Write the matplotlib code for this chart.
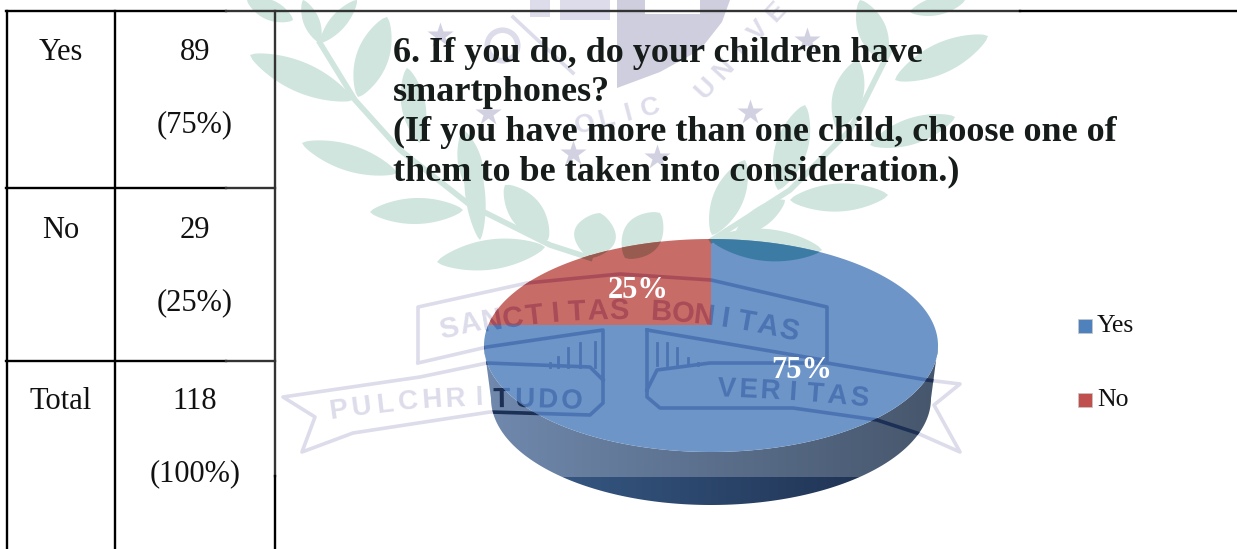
import numpy as np
import matplotlib
matplotlib.use('Agg')
import matplotlib.pyplot as plt
from matplotlib.font_manager import FontProperties
from matplotlib.patches import Polygon, Rectangle, PathPatch
from matplotlib.textpath import TextPath
from matplotlib.transforms import Affine2D

plt.rcParams['font.family'] = ['Liberation Serif', 'DejaVu Serif']

row_labels = ['Yes', 'No', 'Total']
row_counts = ['89', '29', '118']
row_shares = ['(75%)', '(25%)', '(100%)']
pie_labels = ['Yes', 'No']
pie_values = [75, 25]
title_lines = ['6. If you do, do your children have',
               'smartphones?',
               '(If you have more than one child, choose one of',
               'them to be taken into consideration.)']

CX, CY, RX, RY = 711, 345.5, 227, 106.5
APEX = (711, 325)
DEPTH = 53

LEAF = '#cfe5dd'
SEAL = '#dddcea'
SEAL_FONT = FontProperties(family='Liberation Sans', weight='bold')

# laurel leaves as (x0, y0, x1, y1, width)
leaves = [(247, 0, 293, 20, 20), (303, 0, 320, 43, 16), (357, 0, 320, 43, 16),
          (250, 55, 353, 100, 30), (387, 17, 358, 97, 32), (302, 143, 397, 173, 26),
          (407, 68, 420, 143, 24), (463, 130, 478, 200, 24), (370, 212, 463, 210, 26),
          (437, 262, 545, 247, 30), (505, 185, 548, 240, 32), (470, 145, 480, 240, 20),
          (600, 213, 590, 258, 42), (660, 213, 625, 258, 38),
          (860, 0, 885, 62, 28), (910, 12, 965, 0, 18), (895, 80, 988, 36, 30),
          (858, 60, 838, 130, 30), (870, 145, 955, 117, 26), (805, 105, 778, 190, 32),
          (790, 200, 888, 195, 28), (745, 160, 712, 235, 30), (735, 235, 785, 200, 20),
          (711, 240, 822, 250, 32)]
stems = [[(320, 43), (355, 100), (400, 150), (470, 205), (550, 245), (590, 258)],
         [(890, 50), (850, 130), (790, 190), (712, 240)]]
stars = [(440, 35), (488, 113), (573, 153), (657, 157), (750, 112), (807, 40)]
banner_lines = [[(418, 362), (418, 307), (527, 283), (620, 274), (711, 280), (827, 307), (827, 360)],
                [(418, 363), (487, 347), (603, 330), (603, 403), (590, 415), (490, 412),
                 (353, 433), (302, 452), (315, 417), (283, 397), (420, 377), (487, 363),
                 (590, 367), (603, 380)],
                [(647, 330), (647, 397), (660, 408), (793, 408), (877, 420), (917, 433),
                 (960, 452), (934, 405), (960, 384), (927, 380), (827, 363), (710, 363),
                 (657, 370), (647, 390)],
                [(647, 330), (823, 360)],
                [(513, 17), (573, 73)]]
ticks = [(595, 342, 367), (580, 343, 367), (568, 348, 367), (558, 357, 367), (550, 363, 367),
         (657, 343, 365), (667, 343, 365), (677, 348, 365), (688, 358, 365), (698, 363, 365)]


def ellipse_xy(t, rx=RX, ry=RY, cy=CY):
    return np.column_stack([CX + rx * np.cos(t), cy - ry * np.sin(t)])


def ray_angle(deg):
    # where a ray from the apex at this pie angle meets the rim
    a = np.radians(deg)
    dx, dy = np.cos(a), -np.sin(a)
    px, py = (APEX[0] - CX) / RX, (APEX[1] - CY) / RY
    qx, qy = dx / RX, dy / RY
    A = qx * qx + qy * qy
    B = 2 * (px * qx + py * qy)
    C = px * px + py * py - 1
    s = (-B + np.sqrt(B * B - 4 * A * C)) / (2 * A)
    x, y = APEX[0] + s * dx, APEX[1] + s * dy
    return np.arctan2((CY - y) / RY, (x - CX) / RX)


def curved_text(ax, text, x0, y0, x1, y1, bend, color, clip, size=18):
    xs = np.linspace(x0, x1, len(text))
    u = np.linspace(-1, 1, len(text))
    ys = np.linspace(y0, y1, len(text)) + bend * (u * u - 1)
    slope = np.gradient(ys, xs)
    for ch, x, y, m in zip(text, xs, ys, slope):
        if ch == ' ':
            continue
        angle = -np.degrees(np.arctan(m))
        if clip is None:
            ax.text(x, y, ch, color=color, fontproperties=SEAL_FONT, ha='center', va='center',
                    rotation=angle, rotation_mode='anchor', zorder=1).set_fontsize(size)
        else:
            # Agg ignores clip paths on text, so the tinted letters are drawn as outlines
            tp = TextPath((0, 0), ch, size=size * 100 / 72, prop=SEAL_FONT)
            box = tp.get_extents()
            tr = (Affine2D().translate(-box.x0 - box.width / 2, -box.y0 - box.height / 2)
                  .scale(1, -1).rotate_deg(-angle).translate(x, y))
            patch = ax.add_patch(PathPatch(tp, fc=color, ec='none', zorder=3, transform=tr + ax.transData))
            patch.set_clip_path(clip)


def draw_seal(ax, leaf, seal, clip=None):
    z = 3 if clip is not None else 1
    items = []
    for x0, y0, x1, y1, w in leaves:
        s = np.linspace(0, 1, 30)
        half = w / 2 * np.sin(np.pi * s) ** 0.7
        nx, ny = -(y1 - y0), x1 - x0
        n = np.hypot(nx, ny)
        xs, ys = x0 + (x1 - x0) * s, y0 + (y1 - y0) * s
        up = np.column_stack([xs + nx / n * half, ys + ny / n * half])
        down = np.column_stack([xs - nx / n * half, ys - ny / n * half])
        items.append(ax.add_patch(Polygon(np.vstack([up, down[::-1]]), fc=leaf, ec='none', zorder=z)))
    for st in stems:
        pts = np.array(st)
        items += ax.plot(pts[:, 0], pts[:, 1], color=leaf, lw=4, zorder=z)
    if clip is None:
        # shield and lettering at the top of the crest
        shield = [(617, 0), (730, 0), (722, 22), (700, 50), (660, 72), (617, 88)]
        ax.add_patch(Polygon(shield, fc='#cfcedf', ec='none', zorder=z))
        ax.add_patch(Rectangle((645, 0), 55, 14, fc='white', ec='none', zorder=z))
        ax.add_patch(Rectangle((530, 0), 20, 17, fc=seal, ec='none', zorder=z))
        ax.add_patch(Rectangle((560, 0), 50, 20, fc=seal, ec='none', zorder=z))
        ax.plot([502], [45], ls='none', marker='o', ms=22, mfc='none', mec=seal, mew=4, zorder=z)
        curved_text(ax, 'UNIVE', 706, 88, 776, 12, 0, seal, None, size=19)
        curved_text(ax, 'OLIC', 585, 125, 650, 108, 0, seal, None, size=19)
        ax.plot([x for x, y in stars], [y for x, y in stars], ls='none', marker='*', ms=19, color='#d2d1e2',
                mec='none', zorder=z)
    for line in banner_lines:
        pts = np.array(line)
        items += ax.plot(pts[:, 0], pts[:, 1], color=seal, lw=2.6, zorder=z)
    for x, y0, y1 in ticks:
        items += ax.plot([x, x], [y0, y1], color=seal, lw=2, zorder=z)
    for it in items:
        if clip is not None:
            it.set_clip_path(clip)
    curved_text(ax, 'SANCTITAS BONITAS', 449, 329, 790, 329, 20, seal, clip, size=21)
    curved_text(ax, 'PULCHRITUDO', 338, 411, 572, 399, 6, seal, clip, size=20)
    curved_text(ax, 'VERITAS', 727, 387, 860, 396, 1, seal, clip, size=20)


def gradient_band(ax, left, right, y0, y1, clip):
    c0 = np.array(matplotlib.colors.to_rgb(left))
    c1 = np.array(matplotlib.colors.to_rgb(right))
    w = np.linspace(0, 1, 256)[:, None]
    img = (c0 * (1 - w) + c1 * w)[None, :, :]
    im = ax.imshow(img, extent=(CX - RX, CX + RX, y1, y0), aspect='auto', zorder=2, interpolation='bilinear')
    im.set_clip_path(clip)


fig = plt.figure(figsize=(12.37, 5.49), dpi=100)
ax = fig.add_axes([0, 0, 1, 1])
draw_seal(ax, LEAF, SEAL)

# pie body below the rim
t = np.linspace(0, -np.pi, 200)
side = np.vstack([ellipse_xy(t), ellipse_xy(t[::-1], rx=RX - 7, cy=CY + DEPTH)])
side_patch = ax.add_patch(Polygon(side, fc='none', ec='none', zorder=2))
gradient_band(ax, '#7089ad', '#46566c', CY - 10, 477, side_patch)
gradient_band(ax, '#3a5f8c', '#1c2c4a', 477, CY + DEPTH + RY + 2, side_patch)

# slices run counter-clockwise from twelve o'clock, No first
start = 90
end = start + pie_values[1] / sum(pie_values) * 360
t0, t1 = ray_angle(start), ray_angle(end)
red_pts = np.vstack([[APEX], ellipse_xy(np.linspace(t0, t1, 120))])
blue_pts = np.vstack([[APEX], ellipse_xy(np.linspace(t1, t0 + 2 * np.pi, 300))])
blue_patch = ax.add_patch(Polygon(blue_pts, fc='#6d95c8', ec='none', zorder=2))
red_patch = ax.add_patch(Polygon(red_pts, fc='#c86c68', ec='none', zorder=2))

draw_seal(ax, '#3c7ca4', '#4c74b2', clip=blue_patch)
draw_seal(ax, '#985b4f', '#a94c58', clip=red_patch)
draw_seal(ax, '#3a566f', '#1c2f55', clip=side_patch)

ax.text(638, 291, f'{pie_values[1]}%', color='white', fontsize=22, fontweight='bold', ha='center', va='center', zorder=6)
ax.text(802, 370, f'{pie_values[0]}%', color='white', fontsize=22, fontweight='bold', ha='center', va='center', zorder=6)

# legend
legend_colors = ['#4f81bd', '#c0504d']
for name, color, y in zip(pie_labels, legend_colors, [326, 400]):
    ax.add_patch(Rectangle((1078, y - 7), 14, 14, fc=color, ec='#c8c8c8', lw=0.5, zorder=4))
    ax.text(1097, y, name, color='#111111', fontsize=18.5, ha='left', va='center', zorder=6)

# question text
for line, y in zip(title_lines, [62, 101, 141, 180]):
    ax.text(393, y, line, color='#161c1a', fontsize=26, fontweight='bold', ha='left', va='baseline', zorder=6)

# table on the left
for i, (name, count, share) in enumerate(zip(row_labels, row_counts, row_shares)):
    y = [60, 238, 409][i]
    ax.text(61, y, name, color='#111111', fontsize=22, ha='center', va='baseline', zorder=6)
    ax.text(195, y, count, color='#111111', fontsize=22, ha='center', va='baseline', zorder=6)
    ax.text(195, y + 72, share, color='#111111', fontsize=22, ha='center', va='baseline', zorder=6)

ax.plot([6, 226], [11, 11], color='black', lw=1.7, zorder=7)
ax.plot([226, 1020], [11, 11], color='#333333', lw=1.7, zorder=7)
ax.plot([1020, 1237], [11, 11], color='black', lw=1.7, zorder=7)
for y in [188, 361]:
    ax.plot([6, 226], [y, y], color='black', lw=1.7, zorder=7)
    ax.plot([226, 275], [y, y], color='#333333', lw=1.7, zorder=7)
for x in [7, 115]:
    ax.plot([x, x], [11, 549], color='black', lw=1.7, zorder=7)
ax.plot([275, 275], [11, 476], color='#333333', lw=1.7, zorder=7)
ax.plot([275, 275], [476, 549], color='black', lw=1.7, zorder=7)

ax.set_xlim(0, 1237)
ax.set_ylim(549, 0)
ax.axis('off')
fig.savefig('out.png', dpi=100)
